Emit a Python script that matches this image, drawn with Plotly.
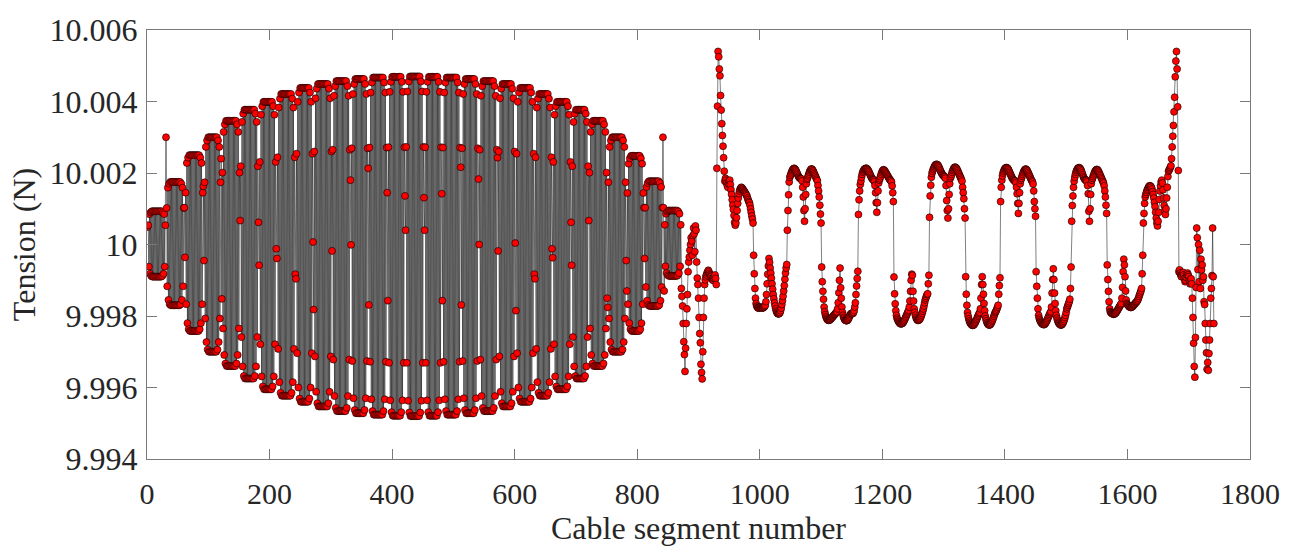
import plotly.graph_objects as go

# Tension offsets from 10 N, in units of 1e-5 N.
# Left part: alternating oscillation, column by column (each column ~30 segments).
col00 = [49, 54, -62, 85, -82, 90, -88,
         93, -90, 93, -90, 93, -90, 93, -90, 93, -90, 93, -90, 93, -90, 93, -90, 93,
         -88, 90, -82, 85, -62, 54]
col01 = [300, 102, -117, 159, -155, 170, -167,
         175, -170, 175, -170, 175, -170, 175, -170, 175, -170, 175, -170, 175, -170, 175, -170, 175,
         -167, 170, -155, 159, -117, 102]
col02 = [103, -36, 145, -167, 228, -220, 243, -237,
         250, -242, 250, -242, 250, -242, 250, -242, 250, -242, 250, -242, 250, -242, 250, -242, 250,
         -237, 243, -220, 228, -167, 145]
col03 = [163, -45, 174, -207, 273, -273, 291, -294,
         300, -300, 300, -300, 300, -300, 300, -300, 300, -300, 300, -300, 300, -300, 300,
         -294, 291, -273, 273, -207, 174]
col04 = [240, -152, 201, -235, 315, -309, 336, -333,
         346, -340, 346, -340, 346, -340, 346, -340, 346, -340, 346, -340, 346, -340, 346, -340, 346,
         -333, 336, -309, 315, -235, 201]
col05 = [67, 219, -259, 343, -341, 366, -368,
         377, -375, 377, -375, 377, -375, 377, -375, 377, -375, 377, -375, 377, -375, 377, -375, 377,
         -368, 366, -341, 343, -259, 219]
col06 = [62, -58, 231, -279, 363, -369, 387, -397,
         399, -405, 399, -405, 399, -405, 399, -405, 399, -405, 399, -405, 399, -405, 399,
         -397, 387, -369, 363, -279, 231]
col07 = [-12, -39, 244, -292, 383, -385, 408, -415,
         421, -423, 421, -423, 421, -423, 421, -423, 421, -423, 421, -423, 421, -423, 421, -423, 421,
         -415, 408, -385, 383, -292, 244]
col08 = [-83, -96, 254, -304, 399, -400, 425, -431,
         438, -440, 438, -440, 438, -440, 438, -440, 438, -440, 438, -440, 438, -440, 438,
         -431, 425, -400, 399, -304, 254]
col09 = [7, -182, 260, -313, 409, -412, 436, -444,
         449, -453, 449, -453, 449, -453, 449, -453, 449, -453, 449, -453, 449, -453, 449, -453, 449,
         -444, 436, -412, 409, -313, 260]
col10 = [-18, 265, -322, 416, -424, 443, -457,
         457, -466, 457, -466, 457, -466, 457, -466, 457, -466, 457, -466, 457, -466, 457, -466, 457,
         -457, 443, -424, 416, -322, 265]
col11 = [180, -1, 269, -326, 421, -430, 449, -463,
         463, -472, 463, -472, 463, -472, 463, -472, 463, -472, 463, -472, 463, -472, 463,
         -463, 449, -430, 421, -326, 269]
col12 = [213, -169, 271, -328, 425, -433, 453, -466,
         467, -476, 467, -476, 467, -476, 467, -476, 467, -476, 467, -476, 467, -476, 467, -476, 467,
         -466, 453, -433, 425, -328, 271]
col13 = [145, -157, 272, -331, 427, -436, 455, -469,
         469, -479, 469, -479, 469, -479, 469, -479, 469, -479, 469, -479, 469, -479, 469,
         -469, 455, -436, 427, -331, 272]
col14 = [136, 40, 273, -331, 428, -437, 456, -470,
         470, -480, 470, -480, 470, -480, 470, -480, 470, -480, 470, -480, 470, -480, 470, -480, 470,
         -470, 456, -437, 428, -331, 273]
col15 = [131, 40, 272, -331, 427, -436, 455, -469,
         469, -479, 469, -479, 469, -479, 469, -479, 469, -479, 469, -479, 469, -479, 469,
         -469, 455, -436, 427, -331, 272]
col16 = [142, -157, 271, -328, 425, -433, 453, -466,
         467, -476, 467, -476, 467, -476, 467, -476, 467, -476, 467, -476, 467, -476, 467, -476, 467,
         -466, 453, -433, 425, -328, 271]
col17 = [216, -169, 269, -326, 421, -430, 449, -463,
         463, -472, 463, -472, 463, -472, 463, -472, 463, -472, 463, -472, 463, -472, 463,
         -463, 449, -430, 421, -326, 269]
col18 = [183, 0, 265, -322, 416, -424, 443, -457,
         457, -466, 457, -466, 457, -466, 457, -466, 457, -466, 457, -466, 457, -466, 457, -466, 457,
         -457, 443, -424, 416, -322, 265]
col19 = [243, -18, 260, -313, 409, -412, 436, -444,
         449, -453, 449, -453, 449, -453, 449, -453, 449, -453, 449, -453, 449, -453, 449,
         -444, 436, -412, 409, -313, 260]
col20 = [4, -185, 254, -304, 399, -400, 425, -431,
         438, -440, 438, -440, 438, -440, 438, -440, 438, -440, 438, -440, 438, -440, 438, -440, 438,
         -431, 425, -400, 399, -304, 254]
col21 = [-83, -96, 244, -292, 383, -385, 408, -415,
         421, -423, 421, -423, 421, -423, 421, -423, 421, -423, 421, -423, 421, -423, 421,
         -415, 408, -385, 383, -292, 244]
col22 = [-12, -37, 231, -279, 363, -369, 387, -397,
         399, -405, 399, -405, 399, -405, 399, -405, 399, -405, 399, -405, 399, -405, 399, -405, 399,
         -397, 387, -369, 363, -279, 231]
col23 = [62, -58, 219, -259, 343, -341, 366, -368,
         377, -375, 377, -375, 377, -375, 377, -375, 377, -375, 377, -375, 377, -375, 377,
         -368, 366, -341, 343, -259, 219]
col24 = [67, 201, -235, 315, -309, 336, -333,
         346, -340, 346, -340, 346, -340, 346, -340, 346, -340, 346, -340, 346, -340, 346, -340, 346,
         -333, 336, -309, 315, -235, 201]
col25 = [-150, -176, 174, -207, 273, -273, 291, -294,
         300, -300, 300, -300, 300, -300, 300, -300, 300, -300, 300, -300, 300, -300, 300, -300, 300,
         -294, 291, -273, 273, -207, 174]
col26 = [-45, -130, 144, -167, 226, -220, 241, -237,
         248, -242, 248, -242, 248, -242, 248, -242, 248, -242, 248, -242, 248, -242, 248,
         -237, 241, -220, 226, -167, 144]
col27 = [103, -39, 103, -119, 161, -157, 172, -169,
         177, -172, 177, -172, 177, -172, 177, -172, 177, -172, 177, -172, 177, -172, 177, -172, 177,
         -169, 172, -157, 161, -119, 103]
col28 = [300, 103, -130, 55, -61, 86, -80, 92, -86,
         95, -88, 95, -88, 95, -88, 95, -88, 95, -88, 95, -88, 95, -88, 95,
         -86, 92, -80, 86, -61, 55]

# Right part
irr1 = [-123, -145, -172, -221, -272, -308, -355, -290, -221, -180, -140, -76, -49, -35, -16,
        0, 19, 10, -30, 25, 46, 30, -20, 52, 40, -49, -94, -112, -150, -204, -249, -275, -335,
        -358, -376, -300, -204, -150, -112, -99, -90, -85, -80, -76, -72, -76, -81, -85, -88,
        -90, -95, -99, -100, -95, -90, -85, -95, -112]
spike1 = [213, 387, 540, 525, 491, 472, 417, 376, 338, 305, 275, 243, 205]
hump1 = [177, 185, 180, 172, 165, 160, 170, 178, 180, 168, 153, 140, 125, 110, 98, 81, 62, 54,
         60, 75, 95, 115, 130, 142, 150, 155, 158, 160, 158, 156, 153, 150, 148, 145, 142, 139,
         136, 130, 125, 120, 117, 110, 100, 90, 80, 71, 60]
w1 = [-30, -82, -123, -150, -165,
      -172, -175, -177, -178, -177, -176, -175, -176, -177, -178, -177, -176, -175, -173, -170,
      -160, -140, -110, -83, -60, -39,
      -50, -66, -80, -94, -110, -125, -140, -152, -163, -172, -180, -186, -190, -193, -194,
      -194, -193, -190, -185, -178, -168, -157, -145, -130, -115, -97, -80, -66, -56]
m1 = [40, 95, 139, 175,
      188, 193, 198, 203, 207, 210, 212, 213, 212, 210, 207, 203, 199, 195, 191, 188, 186, 185, 184, 183,
      178, 160, 133, 95, 65, 100, 140, 170, 182,
      186, 192, 197, 202, 206, 209, 211, 211, 209, 206, 202, 198, 194, 190, 186, 182, 178,
      165, 150, 133, 110, 85, 60]
w2 = [-63, -104, -131, -153, -175,
      -188, -196, -202, -206, -209, -211, -212, -212, -211, -210, -208, -206, -204, -202, -200,
      -198, -196, -194, -192, -190, -188,
      -180, -163, -135, -100, -66, -121, -150, -175, -190,
      -198, -204, -208, -211, -212, -213, -213, -212, -210, -207, -203, -199, -195, -193, -193,
      -193, -193,
      -190, -185, -175, -163, -140, -116, -95, -75]
m2 = [84, 125, 150, 168, 177,
      188, 196, 202, 206, 209, 211, 212, 213, 213, 212, 210, 207, 204, 200, 196, 192, 188, 185,
      183, 181, 180,
      176, 165, 145, 117, 90, 117, 150, 172, 180,
      184, 190, 196, 201, 205, 208, 209, 208, 206, 203, 200, 197, 194, 191, 188, 185, 182,
      180, 178, 175, 164, 145, 120]
w3 = [-91, -138, -166, -185, -198,
      -206, -210, -214, -217, -219, -221, -222, -222, -221, -220, -218, -215, -212, -208, -204,
      -200, -196, -192, -188, -184,
      -175, -158, -131, -100, -83, -86, -131, -158, -180,
      -190, -198, -204, -208, -211, -212, -212, -211, -209, -206, -202, -197, -192, -186, -180,
      -172, -163,
      -155, -150, -145, -140, -138, -110, -86]
m3 = [76, 136, 166, 188, 199,
      205, 210, 214, 218, 221, 223, 224, 224, 223, 221, 218, 214, 210, 206, 202, 199, 196, 194,
      192, 190, 189,
      185, 165, 123, 95, 74, 100, 140, 170, 185,
      190, 196, 202, 207, 211, 214, 216, 216, 215, 213, 210, 206, 202, 198, 194, 190, 186, 182,
      177, 160, 145, 128, 100, 74]
w4 = [-90, -139, -170, -190, -200,
      -208, -214, -218, -221, -223, -225, -226, -226, -225, -223, -220, -217, -213, -209, -205,
      -201, -197, -193, -190,
      -180, -150, -112, -90, -112, -139, -165, -185, -200,
      -208, -214, -219, -222, -224, -225, -225, -224, -222, -219, -215, -211, -206, -201, -196,
      -191, -188,
      -185, -180, -175, -170, -139, -115, -93]
m4 = [120, 160, 180, 192, 200,
      205, 209, 212, 214, 215, 215, 214, 212, 209, 205, 201, 197, 193, 189, 186, 183, 181, 179,
      178, 177,
      172, 160, 142, 115, 87, 115, 145, 170, 180,
      185, 191, 196, 201, 205, 208, 210, 211, 210, 208, 205, 201, 197, 193, 189, 185, 181, 178,
      175, 169, 150, 120, 100, 79]
w5 = [-76, -117, -150, -180, -198,
      -206, -211, -215, -218, -220, -222, -223, -224, -224, -223, -221, -218, -215, -211, -207,
      -203, -199, -195, -191, -188,
      -175, -136, -98, -68, -98, -136, -165, -185, -198,
      -206, -212, -217, -220, -222, -224, -225, -225, -224, -222, -219, -215, -210, -204, -198,
      -190, -180,
      -175, -170, -165, -160, -153, -123, -63]
m5 = [65, 109, 136, 160, 177,
      188, 196, 202, 207, 210, 213, 214, 215, 214, 212, 209, 205, 200, 195, 190, 186, 183, 181,
      180, 179,
      175, 165, 142, 93, 65, 100, 140, 170, 180,
      185, 190, 195, 200, 204, 207, 209, 210, 209, 207, 204, 200, 196, 192, 188, 184, 180, 176,
      172, 164, 150, 133, 110, 87]
w6 = [-57, -98, -131, -160, -180,
      -188, -190, -192, -193, -194, -195, -195, -194, -193, -191, -189, -186, -183, -180, -177,
      -174, -171, -168, -165,
      -150, -120, -76, -41, -57, -90, -130, -155, -165,
      -168, -170, -172, -174, -175, -176, -176, -175, -174, -172, -170, -168, -166, -164, -162,
      -160, -158, -155, -150,
      -145, -140, -135, -130, -123]
hump2 = [-82, -30, 60, 87, 115,
         133, 140, 146, 151, 155, 159, 162, 164, 164, 163, 160, 155, 148, 140, 130, 118,
         106, 90, 74, 60, 52,
         65, 90, 126, 150, 164, 175, 180, 172, 153, 130, 109,
         95, 84, 100, 130,
         160, 190, 205, 208, 212, 216, 220]
spike2 = [240, 273, 303, 333, 371, 412, 469, 513, 540, 491, 385]
cluster2 = [207, -76, -71, -80, -85, -90, -85, -80, -78, -85, -95, -104, -100, -92, -85, -80,
            -85, -90, -100, -110, -104, -96]
irr2 = [-110, -150, -204, -276, -341, -371, -260, -120, 46, 19, -70, 0, -104, -16, -123, -41,
        -71, -57, -100, -90, -160, -168, -221, -267, -303, -349, -330, -352, -305, -267, -221,
        -150, -123, -87, 46, -90, -221]

x_ticks = [0, 200, 400, 600, 800, 1000, 1200, 1400, 1600, 1800]
y_ticks = [9.994, 9.996, 9.998, 10.0, 10.002, 10.004, 10.006]
y_tick_text = ["9.994", "9.996", "9.998", "10", "10.002", "10.004", "10.006"]

left_part = (col00 + col01 + col02 + col03 + col04 + col05 + col06 + col07 + col08 + col09 +
             col10 + col11 + col12 + col13 + col14 + col15 + col16 + col17 + col18 + col19 +
             col20 + col21 + col22 + col23 + col24 + col25 + col26 + col27 + col28)
right_part = (irr1 + spike1 + hump1 + w1 + m1 + w2 + m2 + w3 + m3 + w4 + m4 + w5 + m5 + w6 +
              hump2 + spike2 + cluster2 + irr2)
offsets = left_part + right_part
segments = list(range(1, len(offsets) + 1))
tension = [10 + v * 1e-5 for v in offsets]

SERIF = "Liberation Serif, Times New Roman, serif"
AX = "#7a7a7a"

fig = go.Figure(go.Scatter(
    x=segments, y=tension, mode="lines+markers",
    line=dict(color="black", width=0.5),
    marker=dict(size=7, color="#ff0000", line=dict(color="black", width=0.6)),
    hoverinfo="skip", showlegend=False,
))

fig.update_layout(
    width=1294, height=550,
    margin=dict(l=147, r=44, t=24, b=89),
    paper_bgcolor="white", plot_bgcolor="white",
    font=dict(family=SERIF, size=30, color="#262626"),
)
fig.update_xaxes(
    range=[0, 1800], tickvals=x_ticks, ticktext=[str(v) for v in x_ticks],
    ticks="inside", ticklen=10, tickwidth=1, tickcolor=AX,
    showline=True, linecolor=AX, linewidth=1, mirror="ticks",
    showgrid=False, zeroline=False,
    tickfont=dict(family=SERIF, size=30, color="#262626"),
    ticklabelstandoff=8,
    title=dict(text="Cable segment number", font=dict(family=SERIF, size=32, color="#262626"), standoff=6),
)
fig.update_yaxes(
    range=[9.994, 10.006], tickvals=y_ticks, ticktext=y_tick_text,
    ticks="inside", ticklen=10, tickwidth=1, tickcolor=AX,
    showline=True, linecolor=AX, linewidth=1, mirror="ticks",
    showgrid=False, zeroline=False,
    tickfont=dict(family=SERIF, size=32, color="#262626"),
    ticklabelstandoff=2,
    title=dict(text="Tension (N)", font=dict(family=SERIF, size=32, color="#262626"), standoff=4),
)

fig.write_html("out.html")
